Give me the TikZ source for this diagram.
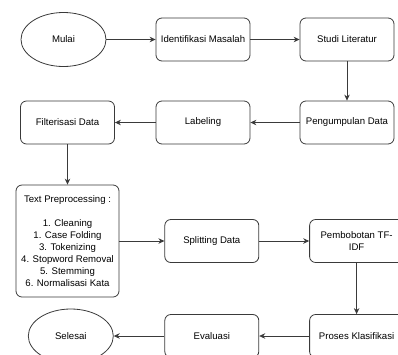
\documentclass[tikz,border=0pt]{standalone}
\usepackage{fontspec}
\setmainfont{Liberation Sans}
\usetikzlibrary{arrows.meta,shapes.geometric}
\definecolor{linegray}{HTML}{3A3A3A}
\tikzset{
  procbox/.style={draw=linegray, line width=0.8pt, rounded corners=6pt, minimum width=94pt, minimum height=43pt, align=center, inner sep=1pt, font=\fontsize{9.6}{12}\selectfont},
  termbox/.style={draw=linegray, line width=0.8pt, ellipse, minimum width=85pt, minimum height=54pt, font=\fontsize{9.6}{12}\selectfont},
  flow/.style={draw=linegray, line width=0.8pt, -{Stealth[length=6pt,width=5.5pt]}}
}

\begin{document}
\begin{tikzpicture}[x=1pt, y=-1pt, node distance=144pt]
        \useasboundingbox (0,0) rectangle (398,354);
        \clip (0,0) rectangle (398,354);
        \node[termbox] at (63.5,39.5) (mulai) {Mulai};
        \node[procbox, right of=mulai, node distance=139.5pt] (ident) {Identifikasi Masalah};
        \node[procbox, right of=ident] (studi) {Studi Literatur};
        \node[procbox, below of=studi, node distance=83pt] (kumpul) {Pengumpulan Data};
        \node[procbox, left of=kumpul] (label) {Labeling};
        \node[procbox, left of=label, node distance=135.5pt] (filter) {Filterisasi Data};
        \node[procbox, below of=filter, node distance=118.5pt, minimum width=103pt, minimum height=112pt] (prepro) {Text Preprocessing :\\[12pt]1. Cleaning\\1. Case Folding\\3. Tokenizing\\4. Stopword Removal\\5. Stemming\\6. Normalisasi Kata};
        \node[procbox, right of=prepro, node distance=144.3pt] (split) {Splitting Data};
        \node[procbox, right of=split, node distance=144.8pt] (bobot) {Pembobotan TF-\\IDF};
        \node[procbox, below of=bobot, node distance=95pt] (proses) {Proses Klasifikasi};
        \node[procbox, left of=proses, node distance=144.8pt] (eval) {Evaluasi};
        \node[termbox, left of=eval, node distance=141pt] (selesai) {Selesai};
        \draw[flow] (mulai) -- (ident);
        \draw[flow] (ident) -- (studi);
        \draw[flow] (studi) -- (kumpul);
        \draw[flow] (kumpul) -- (label);
        \draw[flow] (label) -- (filter);
        \draw[flow] (filter) -- (prepro);
        \draw[flow] (prepro) -- (split);
        \draw[flow] (split) -- (bobot);
        \draw[flow] (bobot) -- (proses);
        \draw[flow] (proses) -- (eval);
        \draw[flow] (eval) -- (selesai);
      \end{tikzpicture}
\end{document}
